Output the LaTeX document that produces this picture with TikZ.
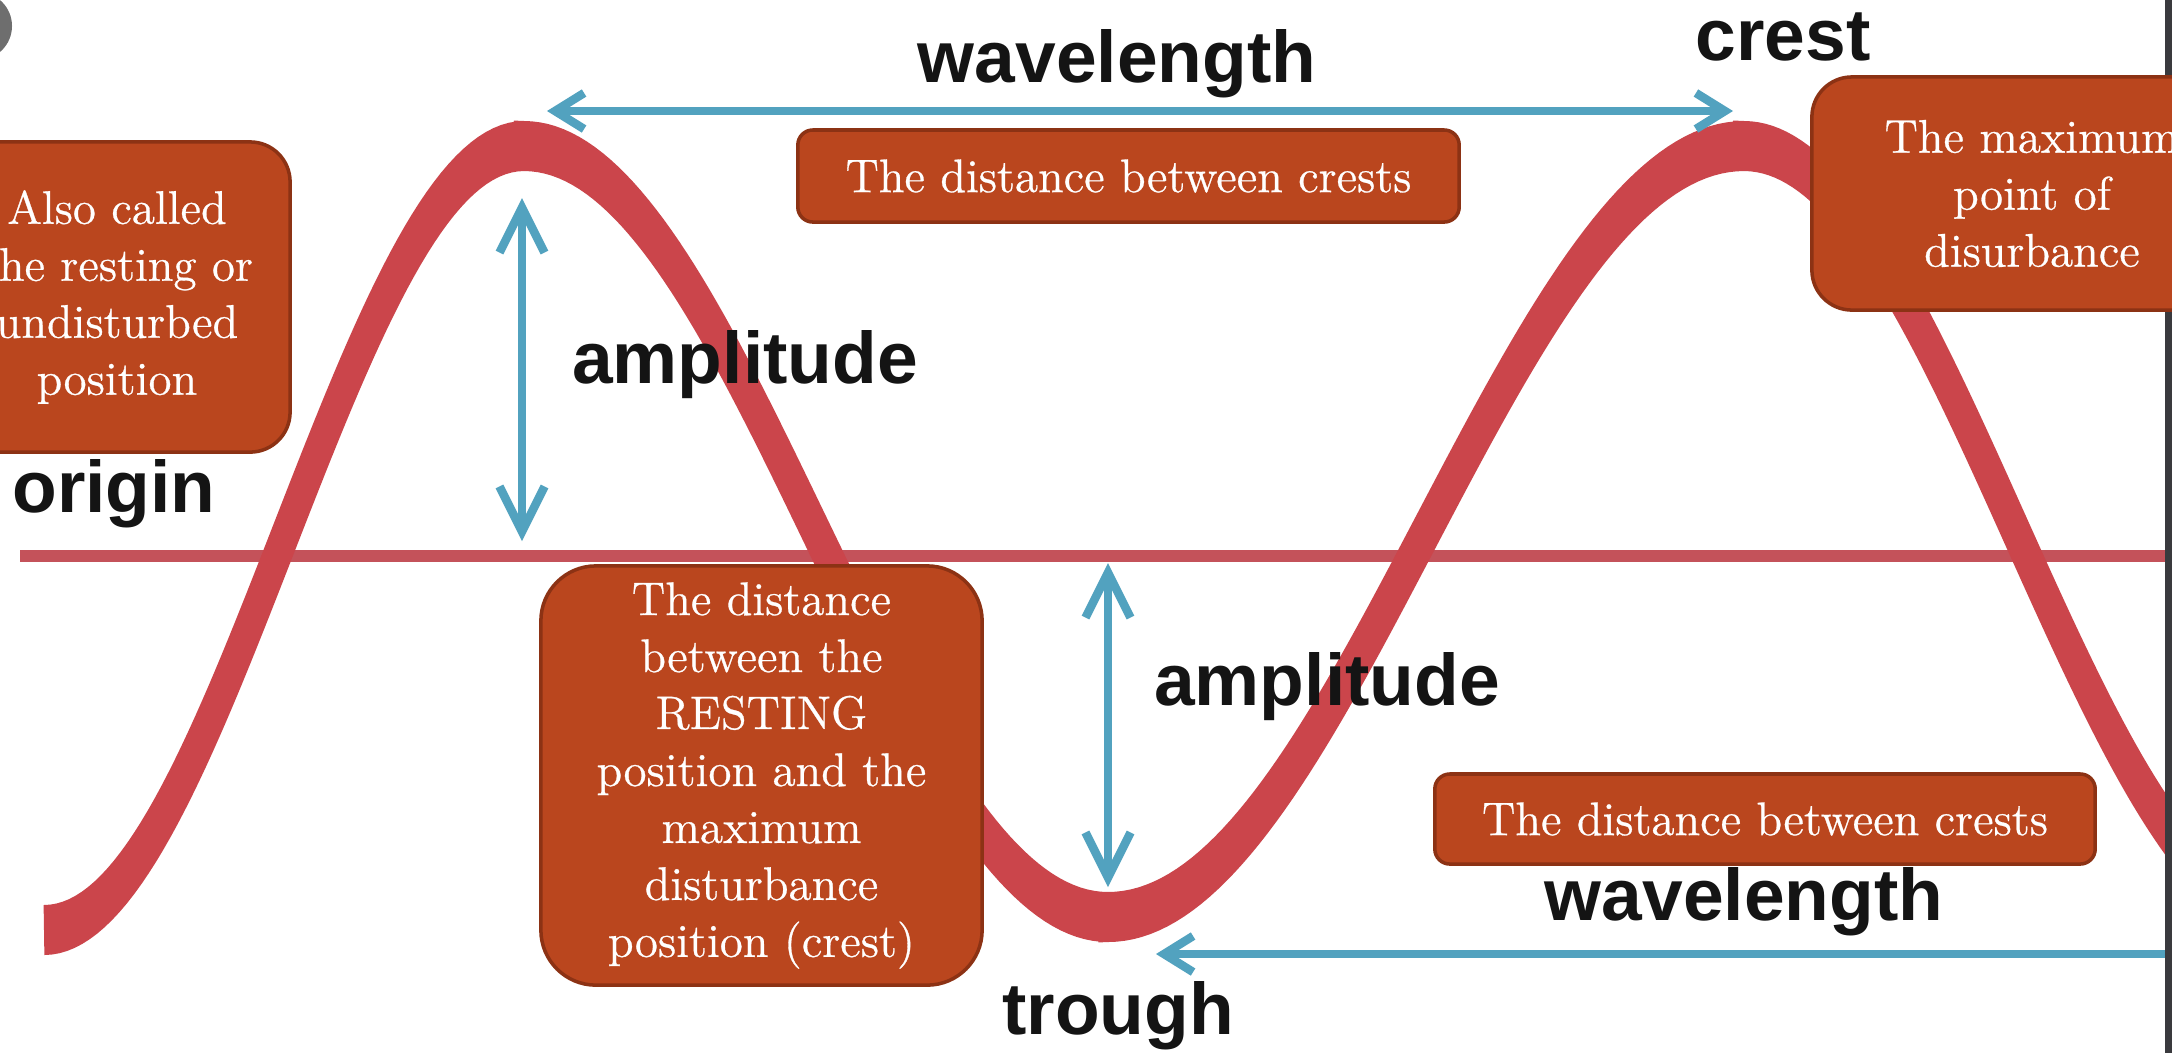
\documentclass[tikz,border=0pt]{standalone}
\usepackage{fontspec}
\newfontfamily\labelfont{Liberation Sans}
\newfontfamily\boxfont{Latin Modern Roman}[FakeBold=0.6]
\usetikzlibrary{arrows.meta}
\definecolor{boxfill}{HTML}{BA461E}
\definecolor{boxline}{HTML}{8C3214}
\definecolor{wavered}{HTML}{CB454B}
\definecolor{basered}{HTML}{C4525A}
\definecolor{arrowblue}{HTML}{52A2BF}
\definecolor{labelblack}{HTML}{141414}
\definecolor{stripegray}{HTML}{3A3A3E}
\definecolor{dotgray}{HTML}{6E6E6E}
\begin{document}
\begin{tikzpicture}[x=0.01cm, y=-0.01cm,
  infobox/.style={draw=boxline, line width=1pt, fill=boxfill, text=white, align=center,
    font=\boxfont\fontsize{13.4}{16.2}\selectfont, inner sep=2pt},
  biglabel/.style={text=labelblack, font=\labelfont\bfseries\fontsize{20.8}{25}\selectfont,
    anchor=base, inner sep=0pt},
  bluearrow/.style={draw=arrowblue, line width=0.085cm},
  hbars/.style={arrows={Straight Barb[length=2.9mm,width=3.6mm]-Straight Barb[length=2.9mm,width=3.6mm]}},
  vbars/.style={arrows={Straight Barb[length=4.5mm,width=4.5mm]-Straight Barb[length=4.5mm,width=4.5mm]}},
  lbar/.style={arrows={Straight Barb[length=2.9mm,width=3.6mm]-}},
  baseline line/.style={draw=basered, line width=0.12cm},
  wave line/.style={draw=wavered, line width=0.25cm, line cap=butt}]
\useasboundingbox (0,0) rectangle (2172,1053);
\clip (0,0) rectangle (2172,1053);
\fill[white] (0,0) rectangle (2172,1053);
% partial grey dot in the corner
\fill[dotgray] (-22,26) circle[radius=0.34cm];
% resting line
\coordinate (bl) at (20,556);
\coordinate (br) at (2172,556);
\draw[baseline line] (bl) -- (br);
% the wave (vertically stretched stroke)
\begin{scope}[transform canvas={yscale=2}]
\draw[wave line]
  plot[domain=44:524, samples=70] (\x, {269 + 196*cos((\x-44)/480*180)})
  -- plot[domain=524:1108, samples=80] (\x, {265.75 - 192.75*cos((\x-524)/584*180)})
  -- plot[domain=1108:1744, samples=80] (\x, {265.75 + 192.75*cos((\x-1108)/636*180)})
  -- plot[domain=1744:2200, samples=70] (\x, {265.75 - 192.75*cos((\x-1744)/544*180)});
\end{scope}
% arrows
\coordinate (wlA) at (547,111);
\coordinate (wlB) at (1733,111);
\draw[bluearrow, hbars] (wlA) -- (wlB);
\coordinate (ampAtop) at (522,198);
\coordinate (ampAbot) at (522,541);
\draw[bluearrow, vbars] (ampAtop) -- (ampAbot);
\coordinate (ampBtop) at (1108,563);
\coordinate (ampBbot) at (1108,887);
\draw[bluearrow, vbars] (ampBtop) -- (ampBbot);
\coordinate (wlC) at (1156,954);
\coordinate (wlD) at (2172,954);
\draw[bluearrow, lbar] (wlC) -- (wlD);
% labels
\node[biglabel] (wltop) at (1117,82) {wavelength};
\node[biglabel] (crest) at (1783,60) {crest};
\node[biglabel] (amp1) at (745,383) {amplitude};
\node[biglabel] (origin) at (114,512) {origin};
\node[biglabel] (amp2) at (1327,705) {amplitude};
\node[biglabel] (wlbot) at (1744,920) {wavelength};
\node[biglabel] (trough) at (1118,1034) {trough};
% right edge stripe
\fill[stripegray] (2165,0) rectangle (2172,1053);
% callout boxes
\node[infobox, rounded corners=0.4cm, minimum width=3.46cm, minimum height=3.10cm] (restbox) at (117,297)
  {Also called\\the resting or\\undisturbed\\position};
\node[infobox, rounded corners=0.15cm, minimum width=6.61cm, minimum height=0.92cm] (crestsA) at (1128.5,176)
  {The distance between crests};
\node[infobox, rounded corners=0.4cm, minimum width=4.40cm, minimum height=2.33cm] (maxbox) at (2032,193.5)
  {The maximum\\point of\\disurbance};
\node[infobox, rounded corners=0.55cm, minimum width=4.41cm, minimum height=4.19cm] (ampbox) at (761.5,775.5)
  {The distance\\between the\\RESTING\\position and the\\maximum\\disturbance\\position (crest)};
\node[infobox, rounded corners=0.15cm, minimum width=6.60cm, minimum height=0.90cm] (crestsB) at (1765,819)
  {The distance between crests};
\end{tikzpicture}
\end{document}
